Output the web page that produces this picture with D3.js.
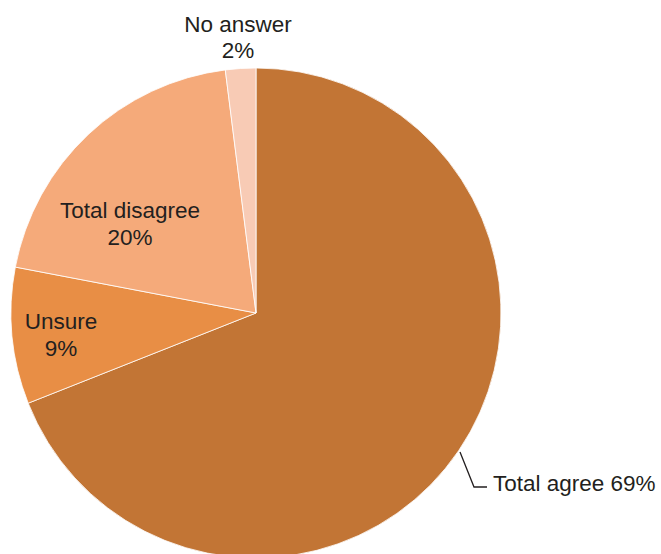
<!DOCTYPE html>
<html>
<head>
<meta charset="utf-8">
<script src="https://cdn.jsdelivr.net/npm/d3@7"></script>
<style>
  html, body { margin: 0; padding: 0; background: #fff; }
  svg { display: block; }
  text { font-family: "Liberation Sans", "Noto Sans", sans-serif; fill: #231f20; }
</style>
</head>
<body>
<svg id="chart" width="661" height="554"></svg>
<script>
// Survey responses, clockwise from 12 o'clock
const categories = ["Total agree", "Unsure", "Total disagree", "No answer"];
const shares = [69, 9, 20, 2];
const colors = ["#c27535", "#e88e45", "#f5aa7a", "#f8cbb5"];

const width = 661, height = 554;
const cx = 256, cy = 313, radius = 245;

const svg = d3.select("#chart");
const g = svg.append("g").attr("transform", `translate(${cx},${cy})`);

const data = categories.map((c, i) => ({ category: c, value: shares[i], color: colors[i] }));

const pie = d3.pie().value(d => d.value).sort(null);
const arc = d3.arc().innerRadius(0).outerRadius(radius);
const arcs = pie(data);

g.selectAll("path.slice")
  .data(arcs)
  .join("path")
  .attr("class", "slice")
  .attr("d", arc)
  .attr("fill", d => d.data.color)
  .attr("stroke", "#fff")
  .attr("stroke-width", 0.8)
  .attr("stroke-linejoin", "round");

// Label placement (two-line labels inside / above, one leader-line label)
const fs = 22.5;
const labels = [
  { i: 3, x: 238, y: 32, anchor: "middle", lines: ["No answer", "2%"], gap: 26 },
  { i: 2, x: 130, y: 218, anchor: "middle", lines: ["Total disagree", "20%"], gap: 27 },
  { i: 1, x: 61, y: 329, anchor: "middle", lines: ["Unsure", "9%"], gap: 27 }
];

labels.forEach(l => {
  const d = arcs[l.i].data;
  const t = svg.append("text")
    .attr("text-anchor", l.anchor)
    .attr("font-size", fs);
  t.append("tspan").attr("x", l.x).attr("y", l.y).text(d.category);
  t.append("tspan").attr("x", l.x).attr("y", l.y + l.gap).text(d.value + "%");
});

// Leader line for the largest slice
const agree = arcs[0].data;
svg.append("path")
  .attr("d", "M460,452 L474,487 L487,487")
  .attr("fill", "none")
  .attr("stroke", "#231f20")
  .attr("stroke-width", 1.3);

svg.append("text")
  .attr("x", 493)
  .attr("y", 491)
  .attr("font-size", fs)
  .text(`${agree.category} ${agree.value}%`);
</script>
</body>
</html>
